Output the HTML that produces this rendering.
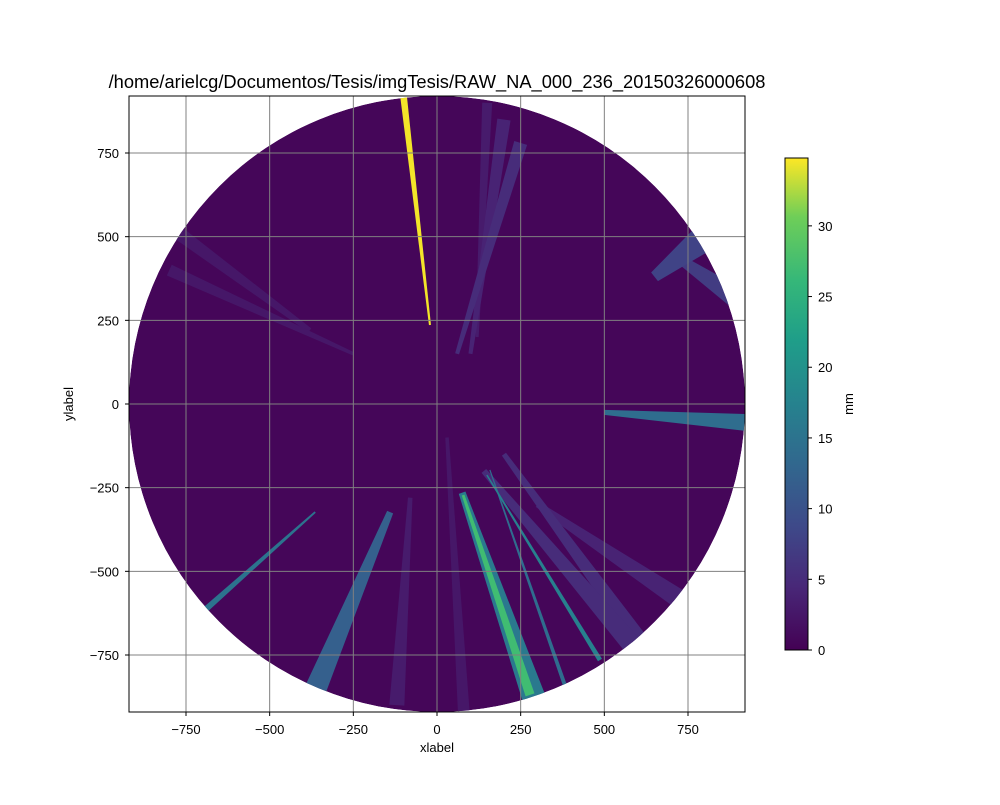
<!DOCTYPE html>
<html><head><meta charset="utf-8"><style>
body{margin:0;background:#fff}
svg text{font-family:"Liberation Sans","DejaVu Sans",sans-serif;font-size:13px;fill:#000}
</style></head><body>
<svg id="chart" width="1000" height="800" viewBox="0 0 1000 800" xmlns="http://www.w3.org/2000/svg">
<defs>
<clipPath id="circ"><circle cx="437" cy="404" r="308"/></clipPath>
<clipPath id="ax"><rect x="129" y="96" width="616" height="616"/></clipPath>
<linearGradient id="vir" x1="0" y1="1" x2="0" y2="0">
<stop offset="0" stop-color="#440154"/><stop offset="0.13" stop-color="#482878"/><stop offset="0.25" stop-color="#3e4989"/><stop offset="0.38" stop-color="#31688e"/><stop offset="0.5" stop-color="#26828e"/><stop offset="0.63" stop-color="#1f9e89"/><stop offset="0.75" stop-color="#35b779"/><stop offset="0.88" stop-color="#6ece58"/><stop offset="1" stop-color="#fde725"/>
</linearGradient>
</defs>
<text x="437" y="88" text-anchor="middle" style="font-size:18.3px">/home/arielcg/Documentos/Tesis/imgTesis/RAW_NA_000_236_20150326000608</text>
<g id="plot" clip-path="url(#ax)"></g>
<g id="grid"></g>
<rect x="129" y="96" width="616" height="616" fill="none" stroke="#000" stroke-width="1"/>
<g id="ticks"></g>
<text x="437" y="752" text-anchor="middle">xlabel</text>
<text x="73" y="404" text-anchor="middle" transform="rotate(-90 73 404)">ylabel</text>
<rect x="785" y="158" width="23" height="492" fill="url(#vir)" stroke="#000" stroke-width="1"/>
<g id="cbticks"></g>
<text x="853" y="404" text-anchor="middle" transform="rotate(-90 853 404)">mm</text>
</svg>
<script>
const axisTicks=[-750,-500,-250,0,250,500,750];
const cbTicks=[0,5,10,15,20,25,30];
const cbMax=34.8;
// beams: start (x1,y1) -> end (x2,y2) in data units, value in mm, width (units)
const beamX1=[-21,78,149,158,-364,-140,500,650,60,120,200,-380,-80,300,700,-250,30,75,140,100];
const beamY1=[236,-272,-212,-197,-323,-323,-25,380,150,200,-150,220,-280,-300,450,150,-100,-265,-200,150];
const beamX2=[-100,278,487,382,-693,-364,920,880,250,150,600,-920,-120,750,920,-800,80,290,600,200];
const beamY2=[920,-869,-765,-840,-615,-855,-55,560,780,900,-700,620,-900,-600,300,400,-920,-880,-740,850];
const beamVal=[34.5,27,17,14,15,12,14,8,5,3,5,2.5,3,4,7,2.5,2.5,16,5,4];
const beamW=[20,28,14,12,18,65,50,110,40,30,50,50,45,60,70,35,35,70,60,40];
const cx=437,cy=404,s=251/750;
const px=x=>cx+x*s, py=y=>cy-y*s;
const stops=[[0,'#440154'],[0.13,'#482878'],[0.25,'#3e4989'],[0.38,'#31688e'],[0.5,'#26828e'],[0.63,'#1f9e89'],[0.75,'#35b779'],[0.88,'#6ece58'],[1,'#fde725']];
function hex(h){return [1,3,5].map(i=>parseInt(h.substr(i,2),16));}
function vir(v){let t=Math.max(0,Math.min(1,v/cbMax));for(let i=1;i<stops.length;i++){if(t<=stops[i][0]){const a=stops[i-1],b=stops[i];const f=(t-a[0])/(b[0]-a[0]);const ca=hex(a[1]),cb=hex(b[1]);return 'rgb('+ca.map((c,k)=>Math.round(c+(cb[k]-c)*f)).join(',')+')';}}return stops[8][1];}
const NS='http://www.w3.org/2000/svg';
const plot=document.getElementById('plot');
const g=document.createElementNS(NS,'g');g.setAttribute('clip-path','url(#circ)');plot.appendChild(g);
const bg=document.createElementNS(NS,'circle');


bg.setAttribute('cx',cx);bg.setAttribute('cy',cy);bg.setAttribute('r',308);bg.setAttribute('fill',vir(0.6));g.appendChild(bg);
const order=beamVal.map((v,i)=>i).sort((a,b)=>beamVal[a]-beamVal[b]);
order.forEach(i=>{
 const x1=px(beamX1[i]),y1=py(beamY1[i]),x2=px(beamX2[i]),y2=py(beamY2[i]);
 const dx=x2-x1,dy=y2-y1,L=Math.hypot(dx,dy),nx=-dy/L,ny=dx/L;
 const w2=beamW[i]*s/2,w1=w2*0.3;
 const p=document.createElementNS(NS,'polygon');
 
 
 p.setAttribute('points',[[x1+nx*w1,y1+ny*w1],[x2+nx*w2,y2+ny*w2],[x2-nx*w2,y2-ny*w2],[x1-nx*w1,y1-ny*w1]].map(q=>q.join(',')).join(' '));
 p.setAttribute('fill',vir(beamVal[i]));
 g.appendChild(p);
});
const grid=document.getElementById('grid'),ticks=document.getElementById('ticks');
axisTicks.forEach(t=>{
 const X=px(t),Y=py(t);
 const gl=document.createElementNS(NS,'line');
 
 
 gl.setAttribute('x1',X);gl.setAttribute('x2',X);gl.setAttribute('y1',96);gl.setAttribute('y2',712);gl.setAttribute('stroke','#808080');grid.appendChild(gl);
 const hl=document.createElementNS(NS,'line');
 
 
 hl.setAttribute('x1',129);hl.setAttribute('x2',745);hl.setAttribute('y1',Y);hl.setAttribute('y2',Y);hl.setAttribute('stroke','#808080');grid.appendChild(hl);
 const tx=document.createElementNS(NS,'text');
 
 
 tx.setAttribute('x',X);tx.setAttribute('y',734);tx.setAttribute('text-anchor','middle');tx.textContent=t<0?'\u2212'+(-t):t;ticks.appendChild(tx);
 const ty=document.createElementNS(NS,'text');
 
 
 ty.setAttribute('x',119);ty.setAttribute('y',Y+5);ty.setAttribute('text-anchor','end');ty.textContent=t<0?'\u2212'+(-t):t;ticks.appendChild(ty);
 const m1=document.createElementNS(NS,'line');m1.setAttribute('x1',X);m1.setAttribute('x2',X);m1.setAttribute('y1',712);m1.setAttribute('y2',716);m1.setAttribute('stroke','#000');ticks.appendChild(m1);
 const m2=document.createElementNS(NS,'line');m2.setAttribute('x1',125);m2.setAttribute('x2',129);m2.setAttribute('y1',Y);m2.setAttribute('y2',Y);m2.setAttribute('stroke','#000');ticks.appendChild(m2);
});
const cbt=document.getElementById('cbticks');
cbTicks.forEach(t=>{
 const Y=650-t*(492/cbMax);
 const m=document.createElementNS(NS,'line');m.setAttribute('x1',808);m.setAttribute('x2',812);m.setAttribute('y1',Y);m.setAttribute('y2',Y);m.setAttribute('stroke','#000');cbt.appendChild(m);
 const tx=document.createElementNS(NS,'text');
 
 
 tx.setAttribute('x',818);tx.setAttribute('y',Y+5);tx.textContent=t;cbt.appendChild(tx);
});
</script>
</body></html>
